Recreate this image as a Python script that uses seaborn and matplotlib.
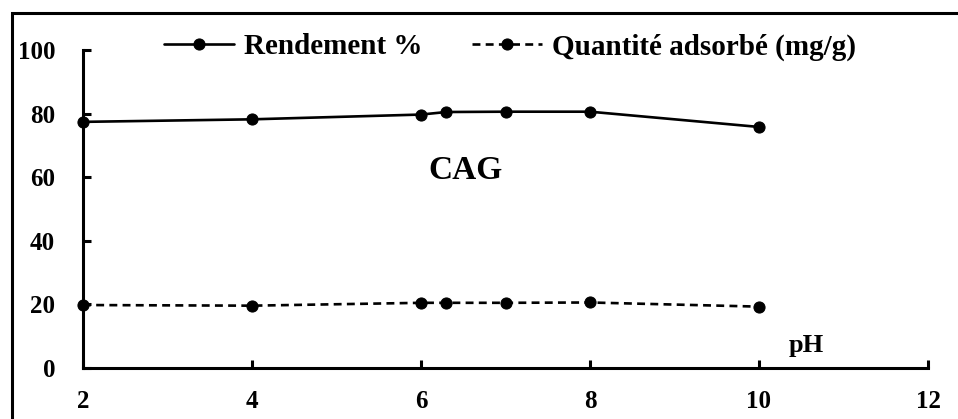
import numpy as np
import pandas as pd
import matplotlib
matplotlib.use("Agg")
import matplotlib.pyplot as plt
import seaborn as sns
from matplotlib.patches import Rectangle

# valeurs
ph = [2, 4, 6, 6.3, 7, 8, 10]
rendement = [77.4, 78.2, 79.7, 80.5, 80.6, 80.6, 75.8]
quantite = [19.8, 19.6, 20.5, 20.5, 20.5, 20.6, 19.3]
xticks = [2, 4, 6, 8, 10, 12]
yticks = [0, 20, 40, 60, 80, 100]

sns.set_style("ticks")
plt.rcParams['font.family'] = ['Liberation Serif', 'DejaVu Serif']
plt.rcParams['font.weight'] = 'bold'
plt.rcParams['text.color'] = 'black'
plt.rcParams['xtick.color'] = 'black'
plt.rcParams['ytick.color'] = 'black'
plt.rcParams['axes.labelcolor'] = 'black'

fig = plt.figure(figsize=(9.58, 4.19), dpi=100)
ax = fig.add_axes([83/958, 1-368/419, (928-83)/958, (368-50)/419])

sns.lineplot(x=ph, y=rendement, ax=ax, color='black', marker='o', markersize=8,
             markeredgecolor='black', linewidth=1.9, label='Rendement %', clip_on=False)
sns.lineplot(x=ph, y=quantite, ax=ax, color='black', marker='o', markersize=8,
             markeredgecolor='black', linewidth=1.9, linestyle=(0, (3, 2)),
             label='Quantité adsorbé (mg/g)', clip_on=False)

ax.set_xlim(2, 12)
ax.set_ylim(0, 100)
ax.set_xticks(xticks)
ax.set_yticks(yticks)
for s in ['top', 'right']:
    ax.spines[s].set_visible(False)
for s in ['left', 'bottom']:
    ax.spines[s].set_linewidth(2.2)
    ax.spines[s].set_color('black')
ax.tick_params(axis='both', direction='in', length=6, width=2.2, colors='black',
               labelsize=18, bottom=True, left=True)
ax.tick_params(axis='y', pad=20)
ax.tick_params(axis='x', pad=16)
for lab in ax.get_xticklabels() + ax.get_yticklabels():
    lab.set_fontweight('bold')
ax.set_xlabel('')
ax.set_ylabel('')

ax.text(6.53, 62, 'CAG', fontsize=24, fontweight='bold', ha='center', va='center')
ax.text(10.56, 5, 'pH', fontsize=19, fontweight='bold', ha='center', va='baseline')

handles, labels = ax.get_legend_handles_labels()
ax.get_legend().remove()
fig.legend(handles, labels, loc='center', bbox_to_anchor=(510/958, 1-47/419), ncol=2,
           frameon=False, handlelength=2.4, handletextpad=0.35,
           columnspacing=1.7, prop={'weight': 'bold', 'size': 21})

fig.patches.append(Rectangle((12/958, -0.1), 1.2, 1.1 - 13/419, transform=fig.transFigure,
                             fill=False, edgecolor='black', linewidth=2.2, zorder=10))

fig.savefig('out.png', dpi=100)
